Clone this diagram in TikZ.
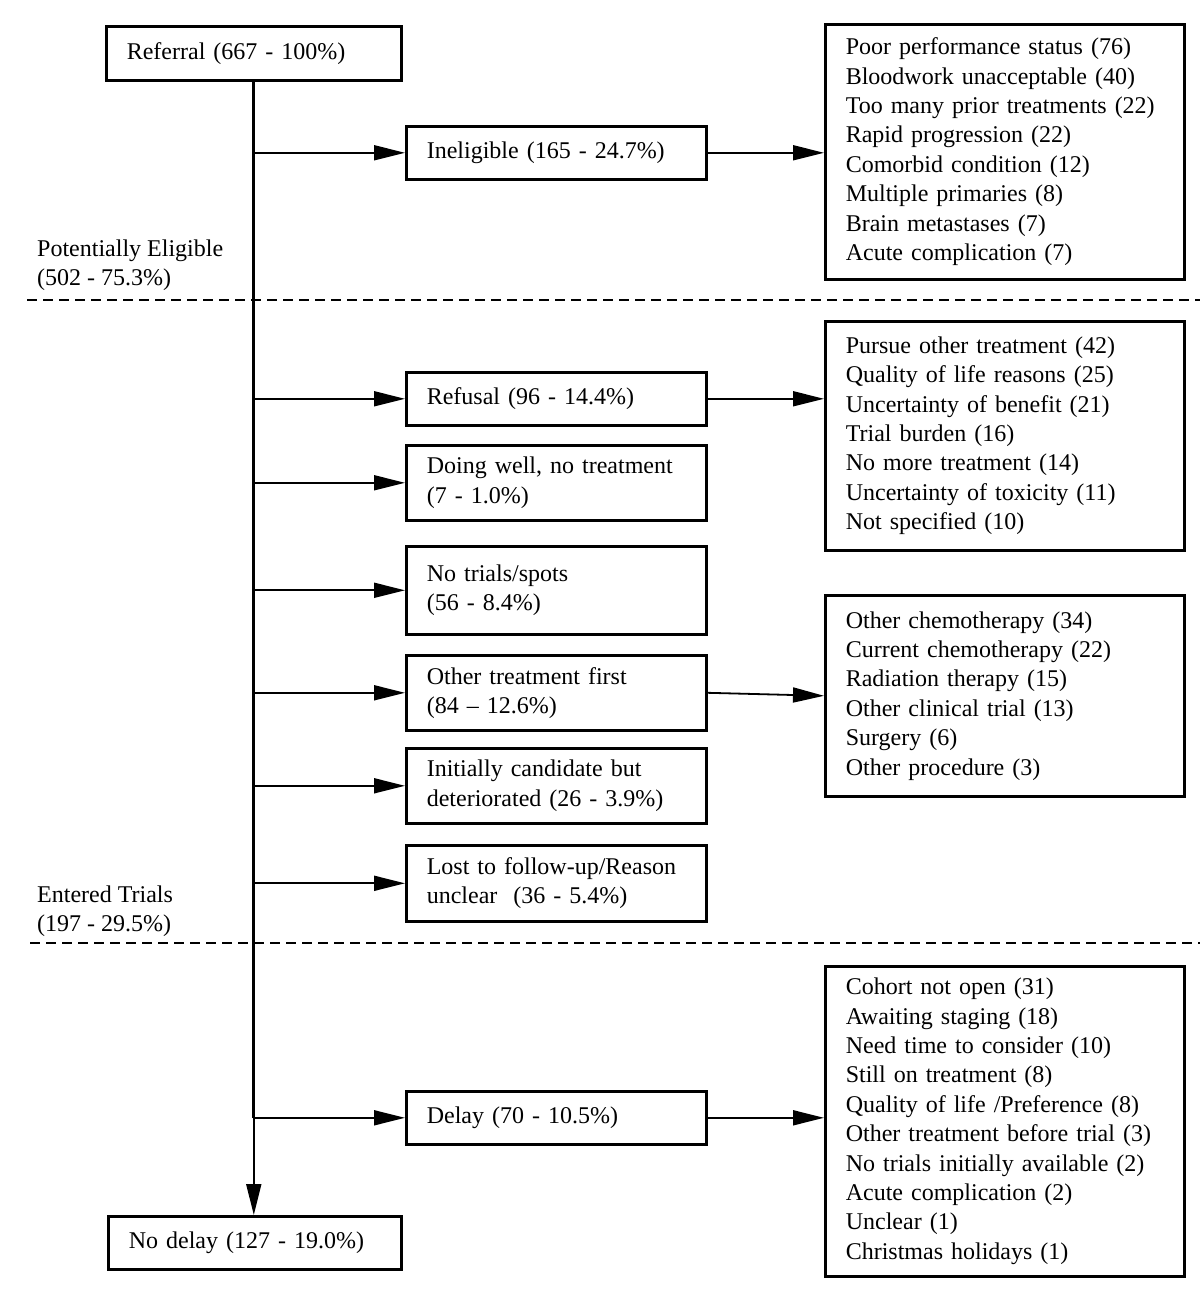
\documentclass[tikz,border=0pt]{standalone}
\usepackage{fontspec}
\setmainfont{Liberation Serif}
\usetikzlibrary{arrows.meta}
\begin{document}
\begin{tikzpicture}[x=1pt,y=-1pt,
  font=\fontsize{24}{29.4}\selectfont,
  box/.style={draw, line width=2.6pt, inner xsep=20.5pt, inner ysep=0pt, align=left, anchor=north west},
  lbox/.style={box, text width=259pt, minimum height=#1},
  rbox/.style={box, text width=318pt, minimum height=#1},
  arr/.style={line width=1.8pt, -{Triangle[length=31pt,width=15pt]}},
  spine/.style={line width=3pt},
  sep/.style={line width=2pt, dash pattern=on 10pt off 6pt},
  lab/.style={anchor=west, align=left, inner sep=0pt}
]
\useasboundingbox (0,0) rectangle (1200,1290);

% top and bottom
\node[box, text width=254pt, minimum height=54pt] (referral) at (105,25) {Referral (667 - 100\%)};
\node[box, text width=252pt, minimum height=53pt] (nodelay) at (107,1215) {No delay (127 - 19.0\%)};

% left column boxes
\node[lbox=53pt] (inel) at (405,125) {Ineligible (165 - 24.7\%)};
\node[lbox=53pt] (refusal) at (405,371) {Refusal (96 - 14.4\%)};
\node[lbox=75pt] (doing) at (405,444) {Doing well, no treatment\\(7 - 1.0\%)};
\node[lbox=88pt] (notrials) at (405,545) {No trials/spots\\(56 - 8.4\%)};
\node[lbox=75pt] (other) at (405,654) {Other treatment first\\(84 -- 12.6\%)};
\node[lbox=75pt] (initially) at (405,747) {Initially candidate but\\deteriorated (26 - 3.9\%)};
\node[lbox=76pt] (lost) at (405,844) {Lost to follow-up/Reason\\unclear\ \ (36 - 5.4\%)};
\node[lbox=53pt] (delay) at (405,1090) {Delay (70 - 10.5\%)};

% right column boxes
\node[rbox=255pt] (r1) at (824,23) {Poor performance status (76)\\Bloodwork unacceptable (40)\\Too many prior treatments (22)\\Rapid progression (22)\\Comorbid condition (12)\\Multiple primaries (8)\\Brain metastases (7)\\Acute complication (7)};
\node[rbox=229pt] (r2) at (824,320) {Pursue other treatment (42)\\Quality of life reasons (25)\\Uncertainty of benefit (21)\\Trial burden (16)\\No more treatment (14)\\Uncertainty of toxicity (11)\\Not specified (10)};
\node[rbox=201pt] (r3) at (824,594) {Other chemotherapy (34)\\Current chemotherapy (22)\\Radiation therapy (15)\\Other clinical trial (13)\\Surgery (6)\\Other procedure (3)};
\node[rbox=310pt] (r4) at (824,965) {Cohort not open (31)\\Awaiting staging (18)\\Need time to consider (10)\\Still on treatment (8)\\Quality of life /Preference (8)\\Other treatment before trial (3)\\No trials initially available (2)\\Acute complication (2)\\Unclear (1)\\Christmas holidays (1)};

% group labels
\node[lab] (potel) at (37,265) {Potentially Eligible\\(502 - 75.3\%)};
\node[lab] (entered) at (37,911.5) {Entered Trials\\(197 - 29.5\%)};

% separators
\coordinate (s1a) at (27,300);
\coordinate (s1b) at (1200,300);
\coordinate (s2a) at (30,943);
\coordinate (s2b) at (1200,943);
\draw[sep] (s1a) -- (s1b);
\draw[sep] (s2a) -- (s2b);

% spine
\draw[spine] (referral.south) -- (referral.south |- delay.west);
\draw[arr] (referral.south |- delay.west) -- (referral.south |- nodelay.north);

% branches
\foreach \n in {inel,refusal,doing,notrials,other,initially,lost,delay}
  \draw[arr] (referral.south |- \n.west) -- (\n.west);

% to reasons
\draw[arr] (inel.east) -- (r1.west |- inel.east);
\draw[arr] (refusal.east) -- (r2.west |- refusal.east);
\draw[arr] (other.east) -- (r3.west);
\draw[arr] (delay.east) -- (r4.west |- delay.east);
\end{tikzpicture}
\end{document}
